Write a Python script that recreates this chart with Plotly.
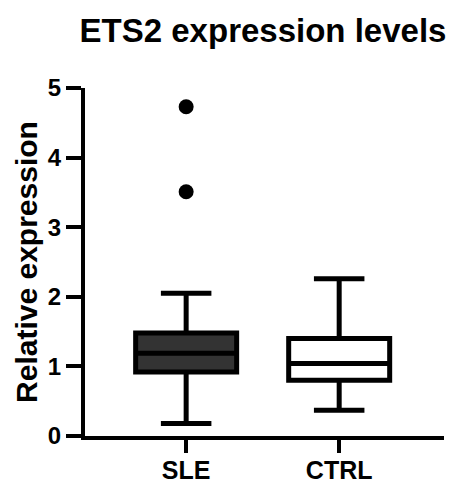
import plotly.graph_objects as go

categories = ["SLE", "CTRL"]
q1 = [0.92, 0.80]
median = [1.19, 1.04]
q3 = [1.48, 1.40]
lower_whisker = [0.18, 0.37]
upper_whisker = [2.05, 2.26]
fills = ["#333333", "#ffffff"]
outlier_cat = ["SLE", "SLE"]
outlier_val = [3.51, 4.73]
y_ticks = [0, 1, 2, 3, 4, 5]

FONT = "Arial, 'Liberation Sans', sans-serif"

fig = go.Figure()
for i, cat in enumerate(categories):
    fig.add_trace(go.Box(
        x=[cat], q1=[q1[i]], median=[median[i]], q3=[q3[i]],
        lowerfence=[lower_whisker[i]], upperfence=[upper_whisker[i]],
        boxpoints=False, width=0.66, whiskerwidth=0.5,
        fillcolor=fills[i], line=dict(color="black", width=5),
        showlegend=False, name=cat,
    ))
fig.add_trace(go.Scatter(
    x=outlier_cat, y=outlier_val, mode="markers",
    marker=dict(color="black", size=15), showlegend=False, cliponaxis=False,
))

fig.update_layout(
    width=450, height=480,
    margin=dict(l=85, r=6, t=88, b=44),
    paper_bgcolor="white", plot_bgcolor="white",
    font=dict(family=FONT, color="black"),
    title=dict(text="ETS2 expression levels", x=263/450, xanchor="center",
               y=1 - 30/480, yanchor="middle",
               font=dict(size=33, family=FONT, weight="bold", color="black")),
    xaxis=dict(categoryorder="array", categoryarray=categories, automargin=False,
               range=[-0.661, 1.685], showline=True, linecolor="black", linewidth=4,
               ticks="outside", ticklen=13, tickwidth=4, tickcolor="black",
               ticklabelstandoff=-4,
               tickfont=dict(size=25, weight="bold"), showgrid=False, zeroline=False),
    yaxis=dict(range=[0, 5], tickvals=y_ticks, showline=True, linecolor="black", linewidth=4,
               automargin=False,
               ticks="outside", ticklen=15, tickwidth=4, tickcolor="black",
               tickfont=dict(size=24, weight="bold"), showgrid=False, zeroline=False,
               title=dict(text="Relative expression", font=dict(size=30, weight="bold"), standoff=2)),
)

fig.write_html("out.html", config={"displayModeBar": False},
               post_script="document.body.style.margin='0';document.body.style.overflow='hidden';")
